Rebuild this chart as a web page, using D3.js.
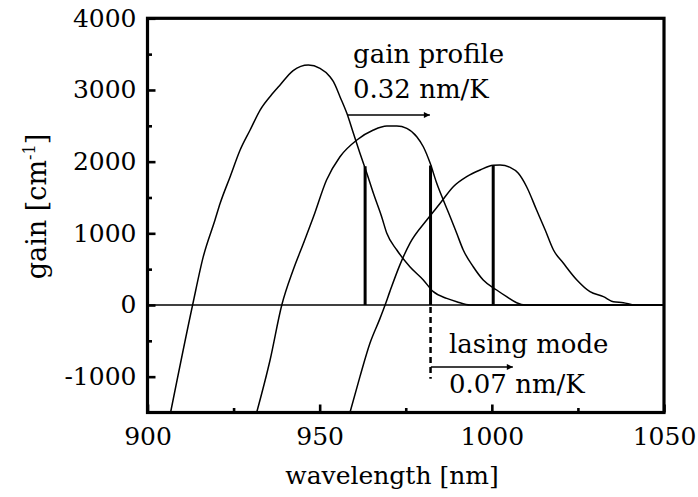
<!DOCTYPE html>
<html><head><meta charset="utf-8">
<script src="https://cdn.jsdelivr.net/npm/d3@7"></script>
<style>
body{margin:0;background:#fff}
svg{display:block}
text{font-family:"DejaVu Serif",serif;fill:#000}
</style>
</head><body>
<svg id="chart" width="698" height="497"></svg>
<script>
// ---- data ----
const curve1Wl   = [906.7, 913.1, 916.2, 919.6, 921.1, 924.0, 926.9, 929.8, 932.7, 936.5, 938.5, 942.3, 946.7, 950.1, 953.0, 954.0, 955.9, 957.9, 959.8, 961.7, 963.7, 965.6, 968.0, 969.5, 972.4, 976.2, 980.1, 983.0, 986.9, 989.8, 993.7, 1050];
const curve1Gain = [-1500, 0, 674, 1186, 1419, 1790, 2162, 2441, 2720, 2960, 3070, 3270, 3348, 3302, 3185, 3115, 2906, 2674, 2395, 2116, 1837, 1558, 1232, 1000, 767, 534, 349, 186, 93, 46, 0, 0];

const curve2Wl   = [931.7, 935.6, 939.0, 942.3, 945.3, 948.2, 952.0, 955.9, 960.8, 965.6, 969.5, 972.4, 975.3, 978.2, 980.1, 982.1, 984.0, 985.9, 987.9, 989.8, 991.7, 994.6, 997.5, 1001.4, 1004.3, 1007.2, 1009.6, 1050];
const curve2Gain = [-1500, -767, 0, 488, 861, 1230, 1744, 2069, 2302, 2441, 2497, 2497, 2465, 2348, 2208, 1977, 1698, 1465, 1232, 1000, 767, 534, 349, 209, 116, 32, 0, 0];

const curve3Wl   = [958.8, 961.7, 964.6, 967.5, 969.0, 970.4, 973.3, 976.2, 981.1, 985.0, 988.8, 992.7, 996.6, 1000.4, 1002.4, 1005.3, 1007.7, 1010.1, 1013.0, 1015.5, 1017.9, 1020.8, 1024.7, 1028.5, 1032.4, 1035.3, 1038.2, 1041.6, 1050];
const curve3Gain = [-1500, -1000, -534, -190, 0, 190, 560, 861, 1186, 1419, 1650, 1790, 1883, 1949, 1953, 1921, 1837, 1650, 1325, 1046, 767, 582, 349, 186, 116, 46, 32, 0, 0];

const modeWl   = [963.2, 982.2, 1000.4];
const modeGain = [1935, 1945, 1950];

const xMajorTicks = [900, 950, 1000, 1050];
const xMinorTicks = [925, 975, 1025];
const yMajorTicks = [-1000, 0, 1000, 2000, 3000, 4000];
const yMinorTicks = [-500, 500, 1500, 2500, 3500];

const xDomain = [900, 1050];
const yDomain = [-1500, 4000];
const xTitle = "wavelength [nm]";
const yTitle = "gain [cm";
const yTitleSup = "-1";

// annotations (data units)
const gainArrowWl = [958.2, 982.0], gainArrowGain = 2650;
const gainText = ["gain profile", "0.32 nm/K"];
const laseArrowWl = [982.3, 1006.1], laseArrowGain = -865;
const laseText = ["lasing mode", "0.07 nm/K"];
const dashedWl = 982.2, dashedGain = [0, -1030];

// ---- drawing ----
const svg = d3.select("#chart");
const L = 147.5, R = 664, T = 18.3, B = 412.5;
const x = d3.scaleLinear(xDomain, [L, R]);
const y = d3.scaleLinear(yDomain, [B, T]);

const defs = svg.append("defs");
defs.append("clipPath").attr("id","clip")
  .append("rect").attr("x",L).attr("y",T).attr("width",R-L).attr("height",B-T);
defs.append("marker").attr("id","arr").attr("viewBox","0 0 10 10")
  .attr("refX",10).attr("refY",5).attr("markerWidth",11).attr("markerHeight",6)
  .attr("markerUnits","userSpaceOnUse").attr("orient","auto")
  .append("path").attr("d","M0,0L10,5L0,10z").attr("fill","#000");

// zero line
svg.append("line").attr("x1",L).attr("x2",R).attr("y1",y(0)).attr("y2",y(0))
  .attr("stroke","#000").attr("stroke-width",1.6);

// curves
const line = d3.line().x(d=>x(d[0])).y(d=>y(d[1])).curve(d3.curveMonotoneX);
const curves = [[curve1Wl,curve1Gain],[curve2Wl,curve2Gain],[curve3Wl,curve3Gain]];
const g = svg.append("g").attr("clip-path","url(#clip)");
curves.forEach(([w,gn])=>{
  g.append("path").datum(w.map((v,i)=>[v,gn[i]])).attr("d",line)
   .attr("fill","none").attr("stroke","#000").attr("stroke-width",1.5);
});

// mode lines
g.selectAll("line.mode").data(modeWl).join("line").attr("class","mode")
  .attr("x1",d=>x(d)).attr("x2",d=>x(d)).attr("y1",y(0)).attr("y2",(d,i)=>y(modeGain[i]))
  .attr("stroke","#000").attr("stroke-width",3);

// dashed line
svg.append("line").attr("x1",x(dashedWl)).attr("x2",x(dashedWl))
  .attr("y1",y(dashedGain[0])+2).attr("y2",y(dashedGain[1]))
  .attr("stroke","#000").attr("stroke-width",2.5).attr("stroke-dasharray","6,4");

// arrows
svg.append("line").attr("x1",x(gainArrowWl[0])).attr("x2",x(gainArrowWl[1]))
  .attr("y1",y(gainArrowGain)).attr("y2",y(gainArrowGain))
  .attr("stroke","#000").attr("stroke-width",1.5).attr("marker-end","url(#arr)");
svg.append("line").attr("x1",x(laseArrowWl[0])).attr("x2",x(laseArrowWl[1]))
  .attr("y1",y(laseArrowGain)).attr("y2",y(laseArrowGain))
  .attr("stroke","#000").attr("stroke-width",1.5).attr("marker-end","url(#arr)");

// annotation text
svg.append("text").attr("x",353).attr("y",63).attr("font-size",26).text(gainText[0]);
svg.append("text").attr("x",353).attr("y",98).attr("font-size",26).text(gainText[1]);
svg.append("text").attr("x",449).attr("y",353).attr("font-size",26).text(laseText[0]);
svg.append("text").attr("x",449).attr("y",393).attr("font-size",26).text(laseText[1]);

// axes
const fmt = d => String(d);
function styleAxis(sel){
  sel.select(".domain").remove();
  sel.selectAll(".tick line").attr("stroke","#000").attr("stroke-width",2.6);
  sel.selectAll(".tick text").attr("font-size",25).attr("font-family","DejaVu Serif, serif").attr("fill","#000");
}
svg.append("g").attr("transform",`translate(${L},0)`)
  .call(d3.axisLeft(y).tickValues(yMajorTicks).tickSize(-8).tickPadding(11).tickFormat(fmt))
  .call(styleAxis);
svg.append("g").attr("transform",`translate(${L},0)`)
  .call(d3.axisLeft(y).tickValues(yMinorTicks).tickSize(-4.5).tickFormat(""))
  .call(styleAxis);
svg.append("g").attr("transform",`translate(0,${B})`)
  .call(d3.axisBottom(x).tickValues(xMajorTicks).tickSize(-8).tickPadding(14.5).tickFormat(fmt))
  .call(styleAxis);
svg.append("g").attr("transform",`translate(0,${B})`)
  .call(d3.axisBottom(x).tickValues(xMinorTicks).tickSize(-4.5).tickFormat(""))
  .call(styleAxis);

// frame
svg.append("rect").attr("x",L).attr("y",T).attr("width",R-L).attr("height",B-T)
  .attr("fill","none").attr("stroke","#000").attr("stroke-width",3.2);

// titles
svg.append("text").attr("x",392).attr("y",484).attr("text-anchor","middle").attr("font-size",25).text(xTitle);
const yt = svg.append("text").attr("transform","translate(45.5,206.5) rotate(-90)")
  .attr("text-anchor","middle").attr("font-size",27);
yt.append("tspan").text(yTitle);
yt.append("tspan").attr("dy",-11).attr("font-size",16).text(yTitleSup);
yt.append("tspan").attr("dy",11).text("]");
</script>
</body></html>
